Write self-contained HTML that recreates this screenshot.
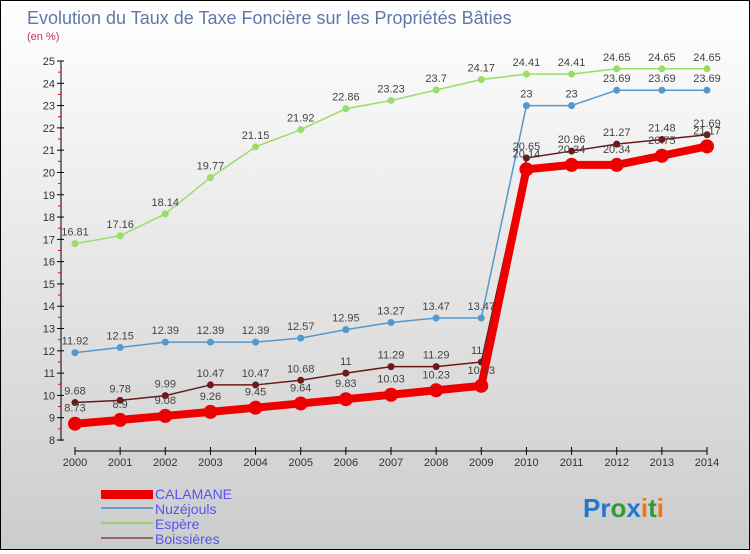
<!DOCTYPE html>
<html><head><meta charset="utf-8"><style>
html,body{margin:0;padding:0}
body{width:750px;height:550px;overflow:hidden;font-family:"Liberation Sans","DejaVu Sans",sans-serif}
#wrap{position:relative;width:748px;height:548px;border:1px solid #000;background:linear-gradient(#ffffff,#cccccc)}
</style></head><body>
<div id="wrap">
<svg id="chart" width="748" height="548">
<text x="26" y="23" font-size="18" fill="#5e79a8">Evolution du Taux de Taxe Foncière sur les Propriétés Bâties</text>
<text x="26" y="39" font-size="11" fill="#cc3366">(en %)</text>
<g id="axes"></g><g id="series"></g>
<g>
<rect x="100" y="489" width="52" height="9" fill="#ee0000"/>
<text x="154" y="498" font-size="14" fill="#5555ee">CALAMANE</text>
<rect x="100" y="506" width="52" height="2" fill="#6699cc"/>
<text x="154" y="513" font-size="14" fill="#5555ee">Nuzéjouls</text>
<rect x="100" y="521" width="52" height="2" fill="#99cc77"/>
<text x="154" y="528" font-size="14" fill="#5555ee">Espère</text>
<rect x="100" y="536" width="52" height="2" fill="#996666"/>
<text x="154" y="543" font-size="14" fill="#5555ee">Boissières</text>
</g>
<g font-size="26" font-weight="bold">
<text x="582" y="516"><tspan fill="#2277cc">Pr</tspan><tspan fill="#339933">o</tspan><tspan fill="#2277cc">x</tspan><tspan fill="#ee7711">i</tspan><tspan fill="#339933">t</tspan><tspan fill="#ee7711">i</tspan></text>
</g>
</svg>
</div>
<script>
const years=[2000,2001,2002,2003,2004,2005,2006,2007,2008,2009,2010,2011,2012,2013,2014];
const yTicks=[8,9,10,11,12,13,14,15,16,17,18,19,20,21,22,23,24,25];
const calamane=[8.73,8.9,9.08,9.26,9.45,9.64,9.83,10.03,10.23,10.43,20.14,20.34,20.34,20.75,21.17];
const nuzejouls=[11.92,12.15,12.39,12.39,12.39,12.57,12.95,13.27,13.47,13.47,23,23,23.69,23.69,23.69];
const espere=[16.81,17.16,18.14,19.77,21.15,21.92,22.86,23.23,23.7,24.17,24.41,24.41,24.65,24.65,24.65];
const boissieres=[9.68,9.78,9.99,10.47,10.47,10.68,11,11.29,11.29,11.5,20.65,20.96,21.27,21.48,21.69];
const NS='http://www.w3.org/2000/svg';
const x=i=>74+i*(706-74)/(years.length-1);
const y=v=>439-(v-8)*(439-60)/17;
function mk(tag,attrs,parent){const e=document.createElementNS(NS,tag);for(const k in attrs)e.setAttribute(k,attrs[k]);parent.appendChild(e);return e;}
const axes=document.getElementById('axes');
let yl=mk('line',{x1:60,y1:60,x2:60,y2:440,stroke:'#000'},axes);


yTicks.forEach(t=>{
  mk('line',{x1:56,x2:63,y1:y(t),y2:y(t),stroke:'#000'},axes);
  if(t<25)mk('line',{x1:57,x2:60,y1:y(t+0.5),y2:y(t+0.5),stroke:'#e00'},axes);
  const tx=mk('text',{x:54,y:y(t)+4,'text-anchor':'end','font-size':11,fill:'#333'},axes);
  tx.textContent=t;
  
  
});
let xl=mk('line',{x1:74,y1:450,x2:706,y2:450,stroke:'#000'},axes);


years.forEach((yr,i)=>{
  mk('line',{x1:x(i),x2:x(i),y1:446,y2:454,stroke:'#000'},axes);
  const tx=mk('text',{x:x(i),y:465,'text-anchor':'middle','font-size':11,fill:'#333'},axes);
  tx.textContent=yr;
  
  
});
const sg=document.getElementById('series');
function series(vals,color,w,r,name,dy){
  const g=mk('g',{},sg);
  
  
  const pl=mk('polyline',{points:vals.map((v,i)=>x(i)+','+y(v)).join(' '),fill:'none',stroke:color,'stroke-width':w,'stroke-linejoin':'round'},g);
  
  
  vals.forEach((v,i)=>{
    const c=mk('circle',{cx:x(i),cy:y(v),r:r,fill:color},g);
    
    
    const t=mk('text',{x:x(i),y:y(v)+dy,'text-anchor':'middle','font-size':11,fill:'#444'},g);
    t.textContent=String(v);
    
    
  });
}
series(espere,'#99dd66',1.5,3.5,'espere',-8);
series(nuzejouls,'#5599cc',1.5,3.5,'nuzejouls',-8);
series(boissieres,'#6b1a1a',1.5,3.5,'boissieres',-8);
series(calamane,'#ee0000',8,7,'calamane',-12);
</script>
</body></html>
